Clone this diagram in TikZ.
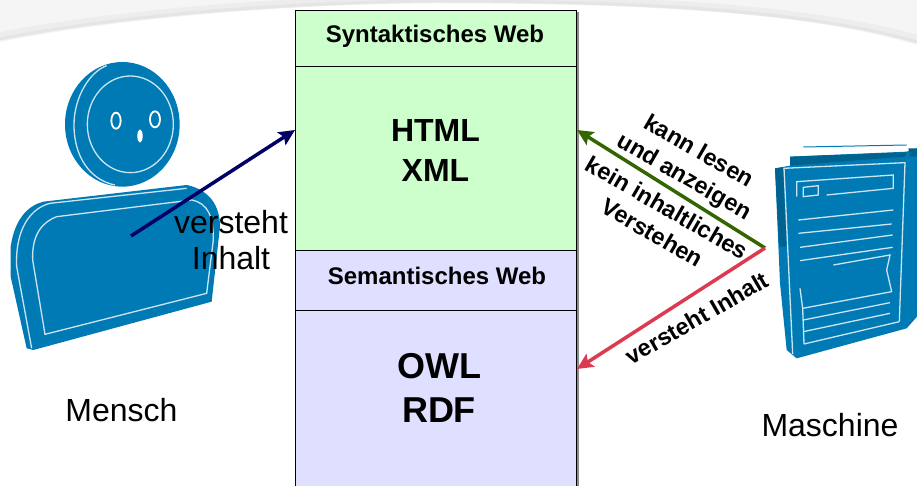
\documentclass[tikz,border=0pt]{standalone}
\usepackage{fontspec}
\setmainfont{Liberation Sans}
\usetikzlibrary{arrows.meta}
\definecolor{mblue}{HTML}{007AB5}
\definecolor{mdark}{HTML}{00628F}
\definecolor{synt}{HTML}{CCFFCC}
\definecolor{sema}{HTML}{DFDFFF}
\definecolor{mnavy}{HTML}{000066}
\definecolor{mgreen}{HTML}{336600}
\definecolor{mred}{HTML}{DC3A50}
\tikzset{
  layer/.style={draw=black, line width=0.9pt, minimum width=281pt, inner sep=0pt},
  plain/.style={font=\fontsize{32}{36}\selectfont, align=center, inner sep=0pt},
  head/.style={font=\fontsize{24}{28}\selectfont\bfseries, align=center, inner sep=0pt},
  big/.style={font=\fontsize{32}{40}\selectfont\bfseries, align=center, inner sep=0pt},
  bigger/.style={font=\fontsize{36}{44}\selectfont\bfseries, align=center, inner sep=0pt},
  slanted/.style={font=\fontsize{23.5}{29}\selectfont\bfseries, align=center, inner sep=0pt, rotate=-30},
  link/.style={line width=3.5pt, -{Stealth[length=16pt,width=15pt,inset=3pt]}},
  rim/.style={white!80!mblue, line width=1.3pt}
}
\begin{document}
\begin{tikzpicture}[x=1pt,y=-1pt]
  \useasboundingbox (0,0) rectangle (917,486);
  \clip (0,0) rectangle (917,486);

  % swoosh at the top
  \fill[black!4] (0,0) -- (0,42) .. controls (120,18) and (290,4) .. (435,3)
    .. controls (620,3) and (800,10) .. (917,45) -- (917,0) -- cycle;
  \draw[black!7, line width=8pt] (0,36) .. controls (120,13) and (290,0) .. (435,-1)
    .. controls (620,-1) and (800,6) .. (917,39);
  \draw[black!10, line width=3pt] (0,39) .. controls (120,15) and (290,2) .. (435,1)
    .. controls (620,1) and (800,8) .. (917,42);

  % layers
  \fill[black!45] (576,12) rectangle (578.5,486);
  \node[layer, fill=synt, minimum height=56pt] (syntbox) at (435.5,38) {};
  \node[layer, fill=synt, minimum height=184pt] (htmlbox) at (435.5,158) {};
  \node[layer, fill=sema, minimum height=60pt] (semabox) at (435.5,280) {};
  \node[layer, fill=sema, minimum height=190pt] (owlbox) at (435.5,405) {};

  \node[head] (synt) at (435,36.5) {Syntaktisches Web};
  \node[big] (html) at (435.5,150) {HTML\\XML};
  \node[head] (sema) at (437,276) {Semantisches Web};
  \node[bigger] (owl) at (439,388) {OWL\\RDF};

  % person
  \begin{scope}[scale=1/3]
    \fill[mblue] (367,373) ellipse[x radius=172, y radius=187];
    \draw[rim] (345,555) .. controls (270,540) and (222,470) .. (222,375)
      .. controls (222,290) and (270,215) .. (320,197);
    \draw[rim] (391,373) ellipse[x radius=129, y radius=145];
    \fill[mblue] (32,740) .. controls (45,650) and (90,615) .. (130,605)
      -- (560,555) .. controls (610,565) and (660,600) .. (660,680)
      -- (635,905) -- (100,1050) -- (80,1045) -- (32,830) -- cycle;
    \draw[rim] (95,1045) -- (50,800) .. controls (45,690) and (90,625) .. (150,610)
      -- (560,565);
    \draw[rim] (135,1003) -- (98,780) .. controls (95,700) and (130,665) .. (170,650)
      -- (575,600) .. controls (625,610) and (640,650) .. (640,720)
      -- (620,880) -- cycle;
    \draw[white, line width=1.8pt] (348,362) ellipse[x radius=14, y radius=24];
    \draw[white, line width=1.8pt] (465,358) ellipse[x radius=15, y radius=24];
    \fill[white] (420,408) ellipse[x radius=8, y radius=20];
  \end{scope}

  % document
  \begin{scope}[shift={(570,0)}, scale=1/3]
    \draw[mblue, line width=1pt] (700,441) -- (1010,435);
    \fill[mblue] (615,505) -- (660,497) -- (660,470) -- (1010,455) -- (1041,445)
      -- (1041,950) -- (1010,985) -- (680,1075) -- (650,1050) -- (630,850) -- cycle;
    \fill[mdark] (615,505) -- (640,502) -- (650,740) -- (628,740) -- cycle;
    \fill[mdark] (660,470) -- (1010,457) -- (1005,470) -- (660,497) -- cycle;
    \fill[mdark] (1015,445) -- (1041,445) -- (1041,470) -- (1020,470) -- cycle;
    \draw[rim] (640,505) -- (1005,488) -- (988,965);
    \draw[rim] (642,505) -- (668,1062);
    \draw[rim] (680,590) -- (680,545) -- (970,525) -- (970,565) -- (770,585);
    \draw[rim] (700,562) -- (745,557) -- (745,585) -- (700,590) -- cycle;
    \draw[rim] (685,660) -- (970,630);
    \draw[rim] (685,700) -- (965,672);
    \draw[rim] (690,742) -- (968,705);
    \draw[rim] (690,782) -- (968,742);
    \draw[rim] (790,795) -- (960,765) -- (950,810) -- (965,875) -- (698,925) -- (690,865);
    \draw[rim] (698,925) -- (702,1032);
    \draw[rim] (700,960) -- (960,908);
    \draw[rim] (700,995) -- (960,940);
    \draw[rim] (702,1032) -- (988,965);
  \end{scope}

  % ends of the arrows
  \coordinate (mensch) at (131,236);
  \coordinate (maschine) at (765,248);
  \coordinate (syntside) at (295,130);
  \coordinate (htmlside) at (577,130);
  \coordinate (owlside) at (577,369);

  \draw[link, mnavy] (mensch) -- (syntside);
  \draw[link, mgreen] (maschine) -- (htmlside);
  \draw[link, mred] (maschine) -- (owlside);

  % labels
  \node[plain] (inhalt) at (231,240) {versteht\\Inhalt};
  \node[plain] (menschtext) at (121.5,410) {Mensch};
  \node[plain] (maschinetext) at (830,425) {Maschine};
  \node[slanted] (lesen) at (691,165) {kann lesen\\und anzeigen};
  \node[slanted] (kein) at (660,220) {kein inhaltliches\\Verstehen};
  \node[font=\fontsize{23.5}{29}\selectfont\bfseries, inner sep=0pt, rotate=30] (versteht) at (697,318) {versteht Inhalt};
\end{tikzpicture}
\end{document}
